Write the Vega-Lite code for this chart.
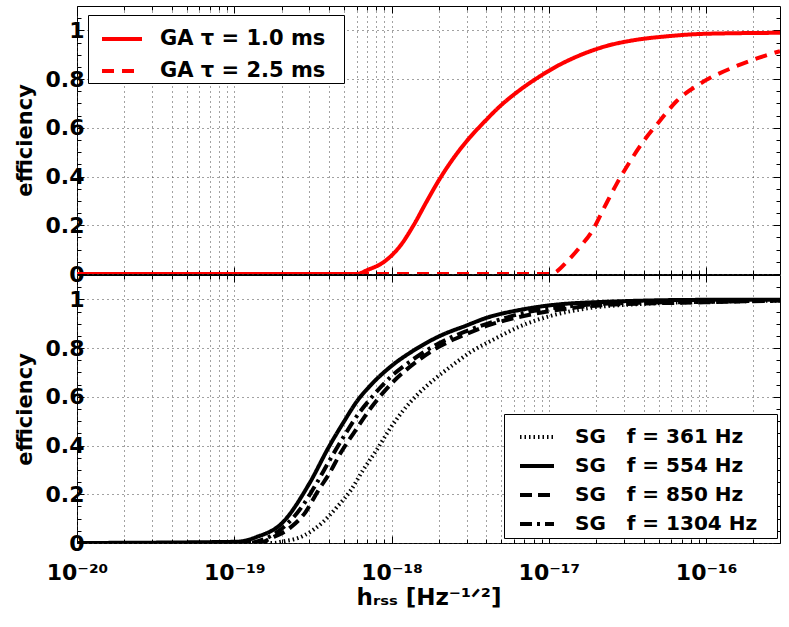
{
  "$schema": "https://vega.github.io/schema/vega-lite/v6.json",
  "padding": {"left": 13, "top": 5, "right": 5, "bottom": 5},
  "background": "white",
  "bounds": "flush",
  "spacing": 1,
  "resolve": {"scale": {"strokeDash": "independent"}, "legend": {"strokeDash": "independent"}},
  "config": {
    "view": {"stroke": "black", "strokeWidth": 1},
    "axis": {
      "labelFont": "DejaVu Sans", "labelFontWeight": "bold", "labelFontSize": 22, "labelColor": "black",
      "titleFont": "DejaVu Sans", "titleFontWeight": "bold", "titleFontSize": 21, "titleColor": "black",
      "domainColor": "black", "tickColor": "black", "tickWidth": 1,
      "gridDash": [1, 4], "gridColor": "#444", "gridWidth": 1,
      "labelOverlap": false, "labelFlush": false
    },
    "legend": {
      "title": null, "orient": "none", "symbolType": "stroke", "symbolStrokeWidth": 4,
      "labelFont": "DejaVu Sans", "labelFontWeight": "bold", "labelFontSize": 20, "labelColor": "black",
      "labelLimit": 0,
      "strokeColor": "black", "fillColor": "white", "cornerRadius": 0
    }
  },
  "datasets": {
    "ga": [
      {"h": 1e-20, "eff": 0, "series": "GA τ = 1.0 ms"},
      {"h": 6e-19, "eff": 0, "series": "GA τ = 1.0 ms"},
      {"h": 7e-19, "eff": 0.016, "series": "GA τ = 1.0 ms"},
      {"h": 8.95e-19, "eff": 0.05, "series": "GA τ = 1.0 ms"},
      {"h": 1.14e-18, "eff": 0.117, "series": "GA τ = 1.0 ms"},
      {"h": 1.38e-18, "eff": 0.2, "series": "GA τ = 1.0 ms"},
      {"h": 1.68e-18, "eff": 0.3, "series": "GA τ = 1.0 ms"},
      {"h": 2.04e-18, "eff": 0.394, "series": "GA τ = 1.0 ms"},
      {"h": 2.48e-18, "eff": 0.476, "series": "GA τ = 1.0 ms"},
      {"h": 3e-18, "eff": 0.545, "series": "GA τ = 1.0 ms"},
      {"h": 3.83e-18, "eff": 0.62, "series": "GA τ = 1.0 ms"},
      {"h": 4.9e-18, "eff": 0.689, "series": "GA τ = 1.0 ms"},
      {"h": 6.6e-18, "eff": 0.757, "series": "GA τ = 1.0 ms"},
      {"h": 8.8e-18, "eff": 0.812, "series": "GA τ = 1.0 ms"},
      {"h": 1.18e-17, "eff": 0.86, "series": "GA τ = 1.0 ms"},
      {"h": 1.58e-17, "eff": 0.898, "series": "GA τ = 1.0 ms"},
      {"h": 2.33e-17, "eff": 0.936, "series": "GA τ = 1.0 ms"},
      {"h": 3.5e-17, "eff": 0.96, "series": "GA τ = 1.0 ms"},
      {"h": 5.5e-17, "eff": 0.975, "series": "GA τ = 1.0 ms"},
      {"h": 1e-16, "eff": 0.986, "series": "GA τ = 1.0 ms"},
      {"h": 2.95e-16, "eff": 0.99, "series": "GA τ = 1.0 ms"},
      {"h": 1e-20, "eff": 0, "series": "GA τ = 2.5 ms"},
      {"h": 1.05e-17, "eff": 0, "series": "GA τ = 2.5 ms"},
      {"h": 1.12e-17, "eff": 0.01, "series": "GA τ = 2.5 ms"},
      {"h": 1.3e-17, "eff": 0.05, "series": "GA τ = 2.5 ms"},
      {"h": 1.55e-17, "eff": 0.105, "series": "GA τ = 2.5 ms"},
      {"h": 1.92e-17, "eff": 0.185, "series": "GA τ = 2.5 ms"},
      {"h": 2.24e-17, "eff": 0.27, "series": "GA τ = 2.5 ms"},
      {"h": 2.7e-17, "eff": 0.37, "series": "GA τ = 2.5 ms"},
      {"h": 3.27e-17, "eff": 0.46, "series": "GA τ = 2.5 ms"},
      {"h": 4e-17, "eff": 0.545, "series": "GA τ = 2.5 ms"},
      {"h": 5.1e-17, "eff": 0.63, "series": "GA τ = 2.5 ms"},
      {"h": 6.5e-17, "eff": 0.71, "series": "GA τ = 2.5 ms"},
      {"h": 9.1e-17, "eff": 0.78, "series": "GA τ = 2.5 ms"},
      {"h": 1.58e-16, "eff": 0.855, "series": "GA τ = 2.5 ms"},
      {"h": 2.95e-16, "eff": 0.915, "series": "GA τ = 2.5 ms"}
    ],
    "sg": [
      {"h": 1e-20, "eff": 0, "series": "SG\u00a0\u00a0\u00a0f = 361 Hz"},
      {"h": 1.8e-19, "eff": 0, "series": "SG\u00a0\u00a0\u00a0f = 361 Hz"},
      {"h": 1.95e-19, "eff": 0.004, "series": "SG\u00a0\u00a0\u00a0f = 361 Hz"},
      {"h": 2.76e-19, "eff": 0.03, "series": "SG\u00a0\u00a0\u00a0f = 361 Hz"},
      {"h": 3.66e-19, "eff": 0.086, "series": "SG\u00a0\u00a0\u00a0f = 361 Hz"},
      {"h": 4.5e-19, "eff": 0.148, "series": "SG\u00a0\u00a0\u00a0f = 361 Hz"},
      {"h": 5.5e-19, "eff": 0.216, "series": "SG\u00a0\u00a0\u00a0f = 361 Hz"},
      {"h": 6.6e-19, "eff": 0.3, "series": "SG\u00a0\u00a0\u00a0f = 361 Hz"},
      {"h": 8.1e-19, "eff": 0.385, "series": "SG\u00a0\u00a0\u00a0f = 361 Hz"},
      {"h": 9.8e-19, "eff": 0.47, "series": "SG\u00a0\u00a0\u00a0f = 361 Hz"},
      {"h": 1.19e-18, "eff": 0.545, "series": "SG\u00a0\u00a0\u00a0f = 361 Hz"},
      {"h": 1.52e-18, "eff": 0.62, "series": "SG\u00a0\u00a0\u00a0f = 361 Hz"},
      {"h": 1.94e-18, "eff": 0.68, "series": "SG\u00a0\u00a0\u00a0f = 361 Hz"},
      {"h": 2.5e-18, "eff": 0.735, "series": "SG\u00a0\u00a0\u00a0f = 361 Hz"},
      {"h": 3.2e-18, "eff": 0.785, "series": "SG\u00a0\u00a0\u00a0f = 361 Hz"},
      {"h": 4.45e-18, "eff": 0.835, "series": "SG\u00a0\u00a0\u00a0f = 361 Hz"},
      {"h": 6.6e-18, "eff": 0.89, "series": "SG\u00a0\u00a0\u00a0f = 361 Hz"},
      {"h": 1.08e-17, "eff": 0.936, "series": "SG\u00a0\u00a0\u00a0f = 361 Hz"},
      {"h": 1.75e-17, "eff": 0.963, "series": "SG\u00a0\u00a0\u00a0f = 361 Hz"},
      {"h": 3.6e-17, "eff": 0.98, "series": "SG\u00a0\u00a0\u00a0f = 361 Hz"},
      {"h": 1e-16, "eff": 0.99, "series": "SG\u00a0\u00a0\u00a0f = 361 Hz"},
      {"h": 2.95e-16, "eff": 0.995, "series": "SG\u00a0\u00a0\u00a0f = 361 Hz"},
      {"h": 1e-20, "eff": 0, "series": "SG\u00a0\u00a0\u00a0f = 554 Hz"},
      {"h": 1.04e-19, "eff": 0.005, "series": "SG\u00a0\u00a0\u00a0f = 554 Hz"},
      {"h": 1.39e-19, "eff": 0.025, "series": "SG\u00a0\u00a0\u00a0f = 554 Hz"},
      {"h": 2e-19, "eff": 0.08, "series": "SG\u00a0\u00a0\u00a0f = 554 Hz"},
      {"h": 3e-19, "eff": 0.244, "series": "SG\u00a0\u00a0\u00a0f = 554 Hz"},
      {"h": 4e-19, "eff": 0.395, "series": "SG\u00a0\u00a0\u00a0f = 554 Hz"},
      {"h": 5e-19, "eff": 0.5, "series": "SG\u00a0\u00a0\u00a0f = 554 Hz"},
      {"h": 6e-19, "eff": 0.58, "series": "SG\u00a0\u00a0\u00a0f = 554 Hz"},
      {"h": 7.3e-19, "eff": 0.645, "series": "SG\u00a0\u00a0\u00a0f = 554 Hz"},
      {"h": 1e-18, "eff": 0.727, "series": "SG\u00a0\u00a0\u00a0f = 554 Hz"},
      {"h": 1.38e-18, "eff": 0.79, "series": "SG\u00a0\u00a0\u00a0f = 554 Hz"},
      {"h": 2e-18, "eff": 0.848, "series": "SG\u00a0\u00a0\u00a0f = 554 Hz"},
      {"h": 3e-18, "eff": 0.893, "series": "SG\u00a0\u00a0\u00a0f = 554 Hz"},
      {"h": 4.05e-18, "eff": 0.925, "series": "SG\u00a0\u00a0\u00a0f = 554 Hz"},
      {"h": 6.6e-18, "eff": 0.957, "series": "SG\u00a0\u00a0\u00a0f = 554 Hz"},
      {"h": 1e-17, "eff": 0.975, "series": "SG\u00a0\u00a0\u00a0f = 554 Hz"},
      {"h": 2.3e-17, "eff": 0.99, "series": "SG\u00a0\u00a0\u00a0f = 554 Hz"},
      {"h": 1e-16, "eff": 0.998, "series": "SG\u00a0\u00a0\u00a0f = 554 Hz"},
      {"h": 2.95e-16, "eff": 0.998, "series": "SG\u00a0\u00a0\u00a0f = 554 Hz"},
      {"h": 1e-20, "eff": 0, "series": "SG\u00a0\u00a0\u00a0f = 850 Hz"},
      {"h": 1.45e-19, "eff": 0, "series": "SG\u00a0\u00a0\u00a0f = 850 Hz"},
      {"h": 1.69e-19, "eff": 0.018, "series": "SG\u00a0\u00a0\u00a0f = 850 Hz"},
      {"h": 2.27e-19, "eff": 0.063, "series": "SG\u00a0\u00a0\u00a0f = 850 Hz"},
      {"h": 2.84e-19, "eff": 0.127, "series": "SG\u00a0\u00a0\u00a0f = 850 Hz"},
      {"h": 3.38e-19, "eff": 0.21, "series": "SG\u00a0\u00a0\u00a0f = 850 Hz"},
      {"h": 4.06e-19, "eff": 0.29, "series": "SG\u00a0\u00a0\u00a0f = 850 Hz"},
      {"h": 4.72e-19, "eff": 0.367, "series": "SG\u00a0\u00a0\u00a0f = 850 Hz"},
      {"h": 5.8e-19, "eff": 0.455, "series": "SG\u00a0\u00a0\u00a0f = 850 Hz"},
      {"h": 7.3e-19, "eff": 0.55, "series": "SG\u00a0\u00a0\u00a0f = 850 Hz"},
      {"h": 1e-18, "eff": 0.655, "series": "SG\u00a0\u00a0\u00a0f = 850 Hz"},
      {"h": 1.38e-18, "eff": 0.735, "series": "SG\u00a0\u00a0\u00a0f = 850 Hz"},
      {"h": 2e-18, "eff": 0.805, "series": "SG\u00a0\u00a0\u00a0f = 850 Hz"},
      {"h": 3e-18, "eff": 0.858, "series": "SG\u00a0\u00a0\u00a0f = 850 Hz"},
      {"h": 4.2e-18, "eff": 0.895, "series": "SG\u00a0\u00a0\u00a0f = 850 Hz"},
      {"h": 6.2e-18, "eff": 0.925, "series": "SG\u00a0\u00a0\u00a0f = 850 Hz"},
      {"h": 9.2e-18, "eff": 0.947, "series": "SG\u00a0\u00a0\u00a0f = 850 Hz"},
      {"h": 2.3e-17, "eff": 0.977, "series": "SG\u00a0\u00a0\u00a0f = 850 Hz"},
      {"h": 9.7e-17, "eff": 0.988, "series": "SG\u00a0\u00a0\u00a0f = 850 Hz"},
      {"h": 2.95e-16, "eff": 0.995, "series": "SG\u00a0\u00a0\u00a0f = 850 Hz"},
      {"h": 1e-20, "eff": 0, "series": "SG\u00a0\u00a0\u00a0f = 1304 Hz"},
      {"h": 1.2e-19, "eff": 0, "series": "SG\u00a0\u00a0\u00a0f = 1304 Hz"},
      {"h": 1.6e-19, "eff": 0.02, "series": "SG\u00a0\u00a0\u00a0f = 1304 Hz"},
      {"h": 2.1e-19, "eff": 0.07, "series": "SG\u00a0\u00a0\u00a0f = 1304 Hz"},
      {"h": 2.7e-19, "eff": 0.15, "series": "SG\u00a0\u00a0\u00a0f = 1304 Hz"},
      {"h": 3.3e-19, "eff": 0.24, "series": "SG\u00a0\u00a0\u00a0f = 1304 Hz"},
      {"h": 4e-19, "eff": 0.335, "series": "SG\u00a0\u00a0\u00a0f = 1304 Hz"},
      {"h": 5e-19, "eff": 0.44, "series": "SG\u00a0\u00a0\u00a0f = 1304 Hz"},
      {"h": 6e-19, "eff": 0.52, "series": "SG\u00a0\u00a0\u00a0f = 1304 Hz"},
      {"h": 7.3e-19, "eff": 0.59, "series": "SG\u00a0\u00a0\u00a0f = 1304 Hz"},
      {"h": 1e-18, "eff": 0.685, "series": "SG\u00a0\u00a0\u00a0f = 1304 Hz"},
      {"h": 1.38e-18, "eff": 0.755, "series": "SG\u00a0\u00a0\u00a0f = 1304 Hz"},
      {"h": 2e-18, "eff": 0.82, "series": "SG\u00a0\u00a0\u00a0f = 1304 Hz"},
      {"h": 3e-18, "eff": 0.87, "series": "SG\u00a0\u00a0\u00a0f = 1304 Hz"},
      {"h": 4.5e-18, "eff": 0.91, "series": "SG\u00a0\u00a0\u00a0f = 1304 Hz"},
      {"h": 7e-18, "eff": 0.945, "series": "SG\u00a0\u00a0\u00a0f = 1304 Hz"},
      {"h": 1.2e-17, "eff": 0.968, "series": "SG\u00a0\u00a0\u00a0f = 1304 Hz"},
      {"h": 3e-17, "eff": 0.985, "series": "SG\u00a0\u00a0\u00a0f = 1304 Hz"},
      {"h": 1e-16, "eff": 0.99, "series": "SG\u00a0\u00a0\u00a0f = 1304 Hz"},
      {"h": 2.95e-16, "eff": 0.995, "series": "SG\u00a0\u00a0\u00a0f = 1304 Hz"}
    ]
  },
  "vconcat": [
    {
      "width": 703,
      "height": 268,
      "data": {"name": "ga"},
      "resolve": {"axis": {"x": "independent", "y": "independent"}},
      "layer": [
        {
          "mark": {"type": "line", "color": "#ff0000", "strokeWidth": 4, "clip": true, "interpolate": "monotone"},
          "encoding": {
            "x": {
              "field": "h", "type": "quantitative",
              "scale": {"type": "log", "domain": [1e-20, 2.95e-16], "nice": false},
              "axis": {
                "orient": "bottom", "title": null, "labels": false, "domain": false,
                "values": [1e-20, 2e-20, 3e-20, 4e-20, 5e-20, 6e-20, 7e-20, 8e-20, 9e-20, 1e-19, 2e-19, 3e-19, 4e-19, 5e-19, 6e-19, 7e-19, 8e-19, 9e-19, 1e-18, 2e-18, 3e-18, 4e-18, 5e-18, 6e-18, 7e-18, 8e-18, 9e-18, 1e-17, 2e-17, 3e-17, 4e-17, 5e-17, 6e-17, 7e-17, 8e-17, 9e-17, 1e-16, 2e-16],
                "grid": true,
                "tickSize": {"condition": {"test": "indexof([1e-20,1e-19,1e-18,1e-17,1e-16], datum.value) >= 0", "value": -7}, "value": -4}
              }
            },
            "y": {
              "field": "eff", "type": "quantitative",
              "scale": {"domain": [0, 1.1], "nice": false},
              "axis": {
                "orient": "left", "title": "efficiency", "titlePadding": 10, "domain": false,
                "values": [0, 0.05, 0.1, 0.15, 0.2, 0.25, 0.3, 0.35, 0.4, 0.45, 0.5, 0.55, 0.6, 0.65, 0.7, 0.75, 0.8, 0.85, 0.9, 0.95, 1, 1.05],
                "format": "~g", "labelPadding": 0,
                "labelExpr": "indexof([0,0.2,0.4,0.6,0.8,1], datum.value) >= 0 ? datum.label : ''",
                "grid": true,
                "gridOpacity": {"condition": {"test": "indexof([0,0.2,0.4,0.6,0.8,1], datum.value) >= 0", "value": 1}, "value": 0},
                "tickSize": {"condition": {"test": "indexof([0,0.2,0.4,0.6,0.8,1], datum.value) >= 0", "value": -7}, "value": -4}
              }
            },
            "strokeDash": {
              "field": "series", "type": "nominal",
              "scale": {"domain": ["GA τ = 1.0 ms", "GA τ = 2.5 ms"], "range": [[1, 0], [12, 8]]},
              "legend": {
                "legendX": 11, "legendY": 9, "symbolStrokeColor": "#ff0000", "symbolSize": 1600,
                "symbolOffset": 10, "labelOffset": 16, "rowPadding": 0, "padding": 2, "labelFontSize": 21,
                "labelExpr": "datum.label + '\u2800'"
              }
            }
          }
        },
        {
          "mark": {"type": "line", "opacity": 0},
          "encoding": {
            "x": {
              "field": "h", "type": "quantitative",
              "axis": {
                "orient": "top", "title": null, "labels": false, "grid": false, "domain": false,
                "values": [1e-20, 2e-20, 3e-20, 4e-20, 5e-20, 6e-20, 7e-20, 8e-20, 9e-20, 1e-19, 2e-19, 3e-19, 4e-19, 5e-19, 6e-19, 7e-19, 8e-19, 9e-19, 1e-18, 2e-18, 3e-18, 4e-18, 5e-18, 6e-18, 7e-18, 8e-18, 9e-18, 1e-17, 2e-17, 3e-17, 4e-17, 5e-17, 6e-17, 7e-17, 8e-17, 9e-17, 1e-16, 2e-16],
                "tickSize": {"condition": {"test": "indexof([1e-20,1e-19,1e-18,1e-17,1e-16], datum.value) >= 0", "value": -7}, "value": -4}
              }
            },
            "y": {
              "field": "eff", "type": "quantitative",
              "axis": {
                "orient": "right", "title": null, "labels": false, "grid": false, "domain": false,
                "values": [0, 0.05, 0.1, 0.15, 0.2, 0.25, 0.3, 0.35, 0.4, 0.45, 0.5, 0.55, 0.6, 0.65, 0.7, 0.75, 0.8, 0.85, 0.9, 0.95, 1, 1.05],
                "tickSize": {"condition": {"test": "indexof([0,0.2,0.4,0.6,0.8,1], datum.value) >= 0", "value": -7}, "value": -4}
              }
            },
            "detail": {"field": "series"}
          }
        }
      ]
    },
    {
      "width": 703,
      "height": 268,
      "data": {"name": "sg"},
      "resolve": {"axis": {"x": "independent", "y": "independent"}},
      "layer": [
        {
          "mark": {"type": "line", "color": "black", "strokeWidth": 4, "clip": true, "interpolate": "monotone"},
          "encoding": {
            "x": {
              "field": "h", "type": "quantitative",
              "scale": {"type": "log", "domain": [1e-20, 2.95e-16], "nice": false},
              "axis": {
                "orient": "bottom", "title": "hᵣₛₛ [Hz⁻¹ᐟ²]", "titleFontSize": 23, "titlePadding": 0, "domain": false,
                "values": [1e-20, 2e-20, 3e-20, 4e-20, 5e-20, 6e-20, 7e-20, 8e-20, 9e-20, 1e-19, 2e-19, 3e-19, 4e-19, 5e-19, 6e-19, 7e-19, 8e-19, 9e-19, 1e-18, 2e-18, 3e-18, 4e-18, 5e-18, 6e-18, 7e-18, 8e-18, 9e-18, 1e-17, 2e-17, 3e-17, 4e-17, 5e-17, 6e-17, 7e-17, 8e-17, 9e-17, 1e-16, 2e-16],
                "labelExpr": "datum.value == 1e-20 ? '10⁻²⁰' : datum.value == 1e-19 ? '10⁻¹⁹' : datum.value == 1e-18 ? '10⁻¹⁸' : datum.value == 1e-17 ? '10⁻¹⁷' : datum.value == 1e-16 ? '10⁻¹⁶' : ''",
                "labelPadding": 26,
                "grid": true,
                "tickSize": {"condition": {"test": "indexof([1e-20,1e-19,1e-18,1e-17,1e-16], datum.value) >= 0", "value": -7}, "value": -4}
              }
            },
            "y": {
              "field": "eff", "type": "quantitative",
              "scale": {"domain": [0, 1.1], "nice": false},
              "axis": {
                "orient": "left", "title": "efficiency", "titlePadding": 10, "domain": false,
                "values": [0, 0.05, 0.1, 0.15, 0.2, 0.25, 0.3, 0.35, 0.4, 0.45, 0.5, 0.55, 0.6, 0.65, 0.7, 0.75, 0.8, 0.85, 0.9, 0.95, 1, 1.05],
                "format": "~g", "labelPadding": 0,
                "labelExpr": "indexof([0,0.2,0.4,0.6,0.8,1], datum.value) >= 0 ? datum.label : ''",
                "grid": true,
                "gridOpacity": {"condition": {"test": "indexof([0,0.2,0.4,0.6,0.8,1], datum.value) >= 0", "value": 1}, "value": 0},
                "tickSize": {"condition": {"test": "indexof([0,0.2,0.4,0.6,0.8,1], datum.value) >= 0", "value": -7}, "value": -4}
              }
            },
            "strokeDash": {
              "field": "series", "type": "nominal",
              "scale": {"domain": ["SG\u00a0\u00a0\u00a0f = 361 Hz", "SG\u00a0\u00a0\u00a0f = 554 Hz", "SG\u00a0\u00a0\u00a0f = 850 Hz", "SG\u00a0\u00a0\u00a0f = 1304 Hz"], "range": [[1.5, 3], [1, 0], [12, 6], [12, 5, 3, 5]]},
              "legend": {
                "legendX": 427, "legendY": 139, "symbolStrokeColor": "black", "symbolSize": 1156,
                "symbolOffset": 10, "labelOffset": 19, "rowPadding": 0, "padding": 4,
                "labelExpr": "datum.label + '\u2800'"
              }
            }
          }
        },
        {
          "mark": {"type": "line", "opacity": 0},
          "encoding": {
            "x": {
              "field": "h", "type": "quantitative",
              "axis": {
                "orient": "top", "title": null, "labels": false, "grid": false, "domain": false,
                "values": [1e-20, 2e-20, 3e-20, 4e-20, 5e-20, 6e-20, 7e-20, 8e-20, 9e-20, 1e-19, 2e-19, 3e-19, 4e-19, 5e-19, 6e-19, 7e-19, 8e-19, 9e-19, 1e-18, 2e-18, 3e-18, 4e-18, 5e-18, 6e-18, 7e-18, 8e-18, 9e-18, 1e-17, 2e-17, 3e-17, 4e-17, 5e-17, 6e-17, 7e-17, 8e-17, 9e-17, 1e-16, 2e-16],
                "tickSize": {"condition": {"test": "indexof([1e-20,1e-19,1e-18,1e-17,1e-16], datum.value) >= 0", "value": -7}, "value": -4}
              }
            },
            "y": {
              "field": "eff", "type": "quantitative",
              "axis": {
                "orient": "right", "title": null, "labels": false, "grid": false, "domain": false,
                "values": [0, 0.05, 0.1, 0.15, 0.2, 0.25, 0.3, 0.35, 0.4, 0.45, 0.5, 0.55, 0.6, 0.65, 0.7, 0.75, 0.8, 0.85, 0.9, 0.95, 1, 1.05],
                "tickSize": {"condition": {"test": "indexof([0,0.2,0.4,0.6,0.8,1], datum.value) >= 0", "value": -7}, "value": -4}
              }
            },
            "detail": {"field": "series"}
          }
        }
      ]
    }
  ]
}
